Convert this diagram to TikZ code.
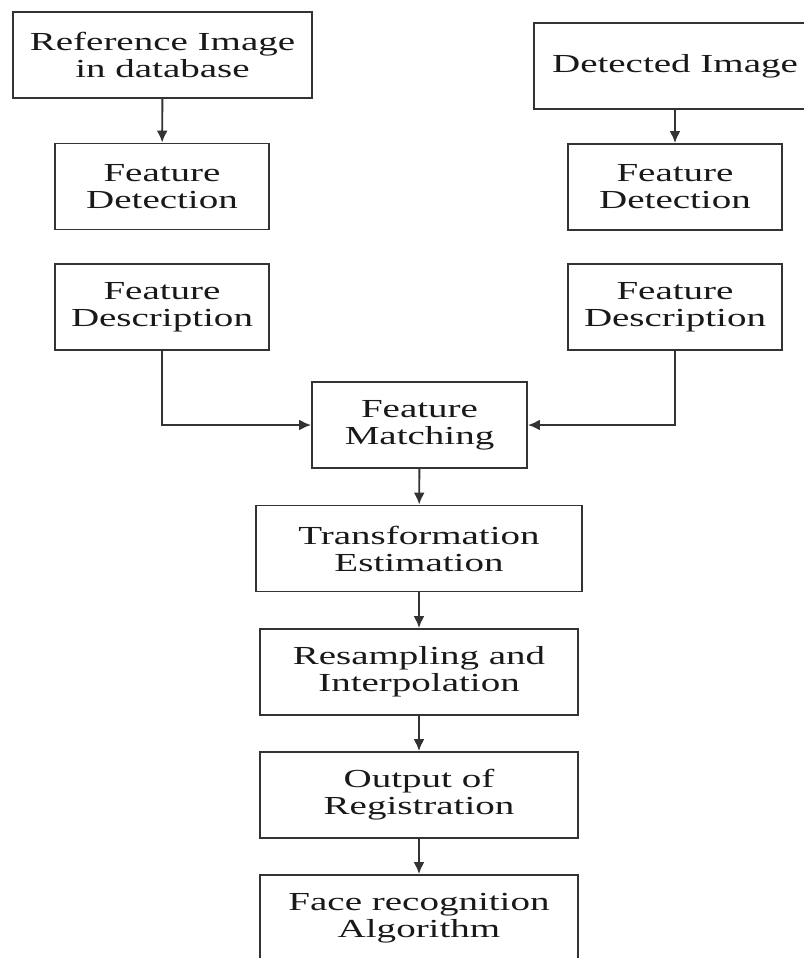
\documentclass[tikz,border=0pt]{standalone}
\usepackage{fontspec}
\setmainfont{Liberation Serif}[FakeStretch=1.5]
\usetikzlibrary{arrows.meta}

\tikzstyle{bS}=[draw=black!80,line width=1.1pt,minimum height=1.72cm,inner sep=0pt,text=black!90,font=\fontsize{14.8pt}{15.4pt}\selectfont,align=center]
\tikzstyle{aS}=[draw=black!80,line width=1.1pt,-{Latex[length=0.24cm,width=0.22cm]}]

\begin{document}
\begin{tikzpicture}[x=0.02cm,y=-0.02cm]
                \clip (0,0) rectangle (804,958);
                \draw (162.5,55) node[bS,minimum width=5.98cm] (ref) {Reference Image\\in database};
                \draw (675,66) node[bS,minimum width=5.64cm] (det) {Detected Image};
                \draw (162,186.5) node[bS,minimum width=4.28cm] (fdl) {Feature\\Detection};
                \draw (675,187) node[bS,minimum width=4.28cm] (fdr) {Feature\\Detection};
                \draw (162,307) node[bS,minimum width=4.28cm] (fsl) {Feature\\Description};
                \draw (675,307) node[bS,minimum width=4.28cm] (fsr) {Feature\\Description};
                \draw (419.5,425) node[bS,minimum width=4.3cm] (fm) {Feature\\Matching};
                \draw (419,548.5) node[bS,minimum width=6.52cm] (te) {Transformation\\Estimation};
                \draw (419,672) node[bS,minimum width=6.36cm] (ri) {Resampling and\\Interpolation};
                \draw (419,795) node[bS,minimum width=6.36cm] (or) {Output of\\Registration};
                \draw (419,918) node[bS,minimum width=6.36cm] (fr) {Face recognition\\Algorithm};
                \path
                    (ref) edge[aS] (fdl)
                    (det) edge[aS] (fdr)
                    (fm) edge[aS] (te)
                    (te) edge[aS] (ri)
                    (ri) edge[aS] (or)
                    (or) edge[aS] (fr)
                ;
                \draw[aS] (fsl) |- (fm);
                \draw[aS] (fsr) |- (fm);
        \end{tikzpicture}
\end{document}
